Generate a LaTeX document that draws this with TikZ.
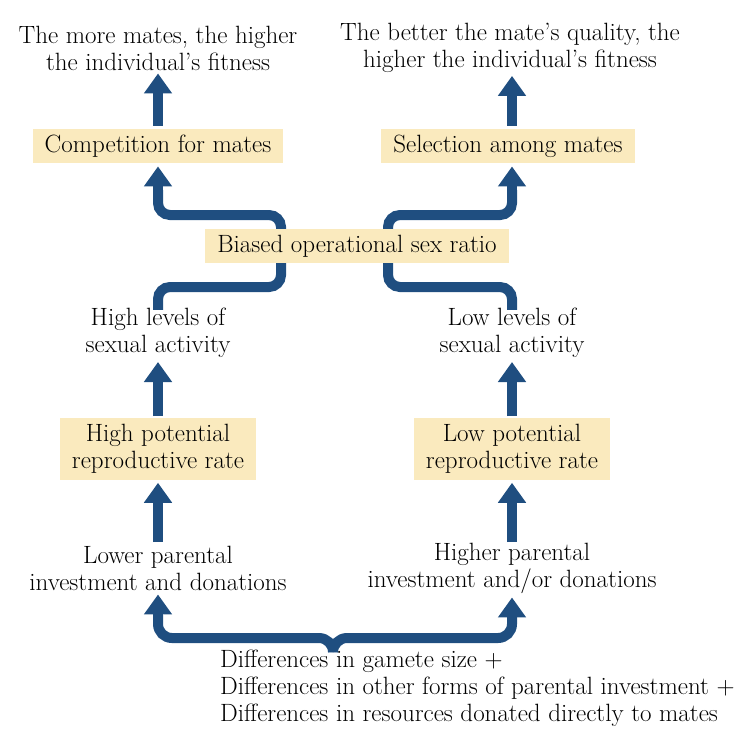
\documentclass[tikz,border=0pt]{standalone}
\usetikzlibrary{arrows.meta}
\definecolor{arrblue}{RGB}{31,78,128}
\definecolor{boxfill}{RGB}{250,234,190}
\begin{document}
\begin{tikzpicture}[x=1pt,y=-1pt,
  txt/.style={align=center,font=\fontsize{25}{27}\selectfont,inner sep=0pt},
  boxed/.style={txt,fill=boxfill,inner xsep=12pt,inner ysep=6pt},
  arr/.style={draw=arrblue,line width=10pt,-{Triangle[length=20pt,width=27pt]}},
  ln/.style={draw=arrblue,line width=10pt,rounded corners=12pt}]
\useasboundingbox (0,0) rectangle (754,744);
\node[txt] (t1) at (158,48) {The more mates, the higher\\the individual's fitness};
\node[txt] (t2) at (510,48) {The better the mate's quality, the\\higher the individual's fitness};
\node[boxed] (c1) at (158,146) {Competition for mates};
\node[boxed] (c2) at (508,146) {Selection among mates};
\node[txt] (h1) at (158,333) {High levels of\\sexual activity};
\node[txt] (h2) at (512,333) {Low levels of\\sexual activity};
\node[boxed] (p1) at (158,449) {High potential\\reproductive rate};
\node[boxed] (p2) at (512,449) {Low potential\\reproductive rate};
\node[txt] (l1) at (158,568) {Lower parental\\investment and donations};
\node[txt] (l2) at (512,568) {Higher parental\\investment and/or donations};
\node[txt,align=left,anchor=north west] (d) at (220,650) {Differences in gamete size +\\Differences in other forms of parental investment +\\Differences in resources donated directly to mates};
\coordinate (mid) at (333,651);
% paths through the biased box
\draw[ln] ([yshift=-2pt]h1.north) |- (281,287) -- (281,215) -| (158,190);
\draw[arr] (158,200) -- ([yshift=-3pt]c1.south);
\draw[ln] ([yshift=-2pt]h2.north) |- (388,287) -- (388,215) -| (512,190);
\draw[arr] (512,200) -- ([yshift=-3pt]c2.south -| 512,0);
\node[boxed] (b) at (357,246) {Biased operational sex ratio};
% vertical arrows
\draw[arr] ([yshift=3pt]c1.north) -- ([yshift=-3pt]t1.south);
\draw[arr] ([yshift=3pt]c2.north -| 512,0) -- ([yshift=-3pt]t2.south -| 512,0);
\draw[arr] (158,416) -- ([yshift=-4pt]h1.south);
\draw[arr] (512,416) -- ([yshift=-4pt]h2.south);
\draw[arr] (158,542) -- ([yshift=-3pt]p1.south);
\draw[arr] (512,542) -- ([yshift=-3pt]p2.south);
% brace
\draw[ln,rounded corners=14pt] (mid) -- (333,638) -- (158,638) -- (158,615);
\draw[ln,rounded corners=14pt] (mid) -- (333,638) -- (512,638) -- (512,615);
\draw[arr] (158,620) -- ([yshift=-4pt]l1.south);
\draw[arr] (512,620) -- ([yshift=-4pt]l2.south -| 512,0);
\end{tikzpicture}
\end{document}
